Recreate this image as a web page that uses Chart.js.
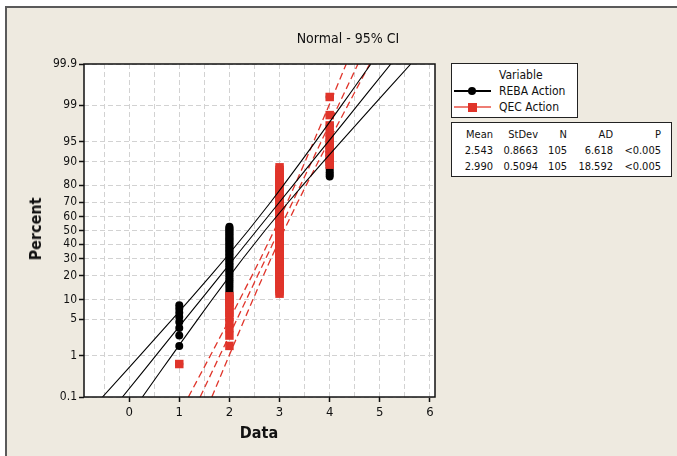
<!DOCTYPE html>
<html>
<head>
<meta charset="utf-8">
<script src="https://cdn.jsdelivr.net/npm/chart.js@4/dist/chart.umd.min.js"></script>
<style>
html, body { margin: 0; padding: 0; background: #fff; overflow: hidden; }
body { width: 677px; height: 456px; position: relative; font-family: 'DejaVu Sans Condensed', 'DejaVu Sans', sans-serif; color: #111; }
#frame { position: absolute; left: 5px; top: 6px; width: 700px; height: 480px; background: #eeeae0; border-left: 2px solid #5a5a5a; border-top: 2px solid #5a5a5a; }
#wrap { position: absolute; left: 0; top: 0; width: 677px; height: 456px; }
.t { position: absolute; white-space: nowrap; line-height: 1; }
.box { position: absolute; border: 1.5px solid #222; background: #fff; }
.r { transform: translate(-100%, -50%); }
.l { transform: translate(0, -50%); }
.c { transform: translate(-50%, -50%); }
</style>
</head>
<body>
<div id="frame"></div>
<div id="wrap"><canvas id="probPlot"></canvas></div>

<div class="t c" style="left:348px; top:38px; font-size:14px;">Normal - 95% CI</div>
<div class="t c" style="left:36px; top:229px; font-size:16px; font-weight:bold; transform:translate(-50%,-50%) rotate(-90deg);">Percent</div>
<div class="t c" style="left:259px; top:433px; font-size:16px; font-weight:bold;">Data</div>

<div class="box" style="left:451px; top:63px; width:125px; height:53px;"></div>
<div class="t l" style="left:499px; top:75px; font-size:12px;">Variable</div>
<div style="position:absolute; left:454px; top:90px; width:37px; height:2px; background:#000;"></div>
<div style="position:absolute; left:468px; top:87px; width:8px; height:8px; border-radius:50%; background:#000;"></div>
<div class="t l" style="left:499px; top:91px; font-size:12px;">REBA Action</div>
<div style="position:absolute; left:454px; top:106px; width:37px; height:2px; background:#ee7d74;"></div>
<div style="position:absolute; left:468px; top:103px; width:9px; height:9px; background:#e0342a;"></div>
<div class="t l" style="left:499px; top:107px; font-size:12px;">QEC Action</div>

<div class="box" style="left:451px; top:122px; width:219px; height:53px;"></div>
<div id="stats"></div>

<script>
// percent plotted for each rank (median ranks, 105 observations per variable)
const rankPercent = [
  0.66, 1.61, 2.56, 3.51, 4.46, 5.41, 6.36, 7.31, 8.25, 9.20,
  10.15, 11.10, 12.05, 13.00, 13.95, 14.90, 15.84, 16.79, 17.74, 18.69,
  19.64, 20.59, 21.54, 22.49, 23.43, 24.38, 25.33, 26.28, 27.23, 28.18,
  29.13, 30.08, 31.02, 31.97, 32.92, 33.87, 34.82, 35.77, 36.72, 37.67,
  38.61, 39.56, 40.51, 41.46, 42.41, 43.36, 44.31, 45.26, 46.20, 47.15,
  48.10, 49.05, 50.00, 50.95, 51.90, 52.85, 53.80, 54.74, 55.69, 56.64,
  57.59, 58.54, 59.49, 60.44, 61.39, 62.33, 63.28, 64.23, 65.18, 66.13,
  67.08, 68.03, 68.98, 69.92, 70.87, 71.82, 72.77, 73.72, 74.67, 75.62,
  76.57, 77.51, 78.46, 79.41, 80.36, 81.31, 82.26, 83.21, 84.16, 85.10,
  86.05, 87.00, 87.95, 88.90, 89.85, 90.80, 91.75, 92.69, 93.64, 94.59,
  95.54, 96.49, 97.44, 98.39, 99.34
];

// observations at each data value
const dataValues = [1, 2, 3, 4];
const rebaCounts = [9, 47, 32, 17];
const qecCounts = [1, 11, 81, 12];

// fitted line and 95% CI, x read at these percents
const fitPercent = [0.1, 0.5, 1, 2, 5, 10, 20, 30, 50, 70, 80, 90, 95, 98, 99, 99.5, 99.9];
const rebaFit = [-0.134, 0.312, 0.528, 0.764, 1.118, 1.433, 1.814, 2.089, 2.543, 2.997, 3.272, 3.653, 3.968, 4.322, 4.558, 4.774, 5.220];
const rebaLower = [-0.532, -0.033, 0.209, 0.472, 0.864, 1.209, 1.621, 1.912, 2.377, 2.821, 3.079, 3.430, 3.714, 4.030, 4.239, 4.430, 4.822];
const rebaUpper = [0.264, 0.656, 0.847, 1.056, 1.372, 1.656, 2.007, 2.265, 2.709, 3.174, 3.465, 3.877, 4.222, 4.614, 4.877, 5.119, 5.618];
const qecFit = [1.416, 1.678, 1.805, 1.944, 2.152, 2.337, 2.561, 2.723, 2.990, 3.257, 3.419, 3.643, 3.828, 4.036, 4.175, 4.302, 4.564];
const qecLower = [1.182, 1.475, 1.617, 1.772, 2.003, 2.206, 2.448, 2.619, 2.893, 3.153, 3.305, 3.511, 3.678, 3.864, 3.987, 4.100, 4.330];
const qecUpper = [1.650, 1.880, 1.993, 2.116, 2.302, 2.469, 2.675, 2.827, 3.087, 3.361, 3.532, 3.774, 3.977, 4.208, 4.363, 4.505, 4.798];

const yTicks = [0.1, 1, 5, 10, 20, 30, 40, 50, 60, 70, 80, 90, 95, 99, 99.9];
const xTicks = [-0.5, 0, 0.5, 1, 1.5, 2, 2.5, 3, 3.5, 4, 4.5, 5, 5.5, 6];

const statsHead = ['Mean', 'StDev', 'N', 'AD', 'P'];
const statsRows = [
  ['2.543', '0.8663', '105', '6.618', '<0.005'],
  ['2.990', '0.5094', '105', '18.592', '<0.005']
];

const BLACK = '#000';
const RED = '#e0342a';

// stats table
const colRight = [493, 538, 567, 613, 661];
const rowY = [134, 150, 166];
let html = '';
[statsHead].concat(statsRows).forEach((row, r) => {
    row.forEach((txt, c) => {
        html += `<div class="t r" style="left:${colRight[c]}px; top:${rowY[r]}px; font-size:11px;">${txt.replace('<', '&lt;')}</div>`;
    });
});
document.getElementById('stats').innerHTML = html;

// inverse normal cdf (Acklam), used by the probability scale
function normInv(p) {
    const a = [-3.969683028665376e+01, 2.209460984245205e+02, -2.759285104469687e+02, 1.383577518672690e+02, -3.066479806614716e+01, 2.506628277459239e+00];
    const b = [-5.447609879822406e+01, 1.615858368580409e+02, -1.556989798598866e+02, 6.680131188771972e+01, -1.328068155288572e+01];
    const c = [-7.784894002430293e-03, -3.223964580411365e-01, -2.400758277161838e+00, -2.549732539343734e+00, 4.374664141464968e+00, 2.938163982698783e+00];
    const d = [7.784695709041462e-03, 3.224671290700398e-01, 2.445134137142996e+00, 3.754408661907416e+00];
    const pl = 0.02425;
    let q, r;
    if (p < pl) {
        q = Math.sqrt(-2 * Math.log(p));
        return (((((c[0]*q+c[1])*q+c[2])*q+c[3])*q+c[4])*q+c[5]) / ((((d[0]*q+d[1])*q+d[2])*q+d[3])*q+1);
    }
    if (p <= 1 - pl) {
        q = p - 0.5; r = q * q;
        return (((((a[0]*r+a[1])*r+a[2])*r+a[3])*r+a[4])*r+a[5])*q / (((((b[0]*r+b[1])*r+b[2])*r+b[3])*r+b[4])*r+1);
    }
    q = Math.sqrt(-2 * Math.log(1 - p));
    return -(((((c[0]*q+c[1])*q+c[2])*q+c[3])*q+c[4])*q+c[5]) / ((((d[0]*q+d[1])*q+d[2])*q+d[3])*q+1);
}

// normal probability axis (values in percent)
class ProbitScale extends Chart.Scale {
    determineDataLimits() {
        this.min = this.options.min;
        this.max = this.options.max;
    }
    buildTicks() {
        return yTicks.map(v => ({ value: v }));
    }
    configure() {
        super.configure();
        this._zStart = normInv(this.min / 100);
        this._zRange = normInv(this.max / 100) - this._zStart;
    }
    getPixelForValue(v) {
        return this.getPixelForDecimal((normInv(v / 100) - this._zStart) / this._zRange);
    }
    getValueForPixel(px) {
        return null;
    }
    getLabelForValue(v) {
        return String(v);
    }
}
ProbitScale.id = 'probit';
ProbitScale.defaults = {};
Chart.register(ProbitScale);

function expandRanks(counts) {
    const pts = [];
    let r = 0;
    counts.forEach((n, k) => {
        for (let i = 0; i < n; i++) pts.push({ x: dataValues[k], y: rankPercent[r++] });
    });
    return pts;
}

function linePts(xs) {
    return xs.map((x, i) => ({ x: x, y: fitPercent[i] }));
}

function lineSet(xs, color, dashed, order) {
    return {
        data: linePts(xs),
        showLine: true,
        borderColor: color,
        borderWidth: dashed ? 1.3 : 1.1,
        borderDash: dashed ? [7, 4] : [],
        pointRadius: 0,
        order: order
    };
}

const plotFrame = {
    id: 'plotFrame',
    beforeDraw(chart) {
        const a = chart.chartArea, ctx = chart.ctx;
        ctx.save();
        ctx.fillStyle = '#fff';
        ctx.fillRect(a.left, a.top, a.right - a.left, a.bottom - a.top);
        ctx.restore();
    },
    afterDraw(chart) {
        const a = chart.chartArea, ctx = chart.ctx;
        ctx.save();
        ctx.strokeStyle = '#111';
        ctx.lineWidth = 1.5;
        ctx.strokeRect(a.left, a.top, a.right - a.left, a.bottom - a.top);
        ctx.restore();
    }
};

const tickFont = { family: "'DejaVu Sans Condensed', 'DejaVu Sans', sans-serif" };

new Chart(document.getElementById('probPlot').getContext('2d'), {
    type: 'scatter',
    data: {
        datasets: [
            lineSet(rebaFit, BLACK, false, 0),
            lineSet(rebaLower, BLACK, false, 0),
            lineSet(rebaUpper, BLACK, false, 0),
            lineSet(qecFit, RED, true, 1),
            lineSet(qecLower, RED, true, 1),
            lineSet(qecUpper, RED, true, 1),
            {
                label: 'QEC Action',
                data: expandRanks(qecCounts),
                pointStyle: 'rect',
                pointRadius: 6,
                pointBorderWidth: 0,
                backgroundColor: RED,
                order: 2
            },
            {
                label: 'REBA Action',
                data: expandRanks(rebaCounts),
                pointStyle: 'circle',
                pointRadius: 4,
                pointBorderWidth: 0,
                backgroundColor: BLACK,
                order: 3
            }
        ]
    },
    options: {
        responsive: true,
        maintainAspectRatio: false,
        animation: false,
        events: [],
        layout: { padding: { top: 64, right: 242, left: 0, bottom: 0 } },
        plugins: {
            legend: { display: false },
            tooltip: { enabled: false }
        },
        scales: {
            x: {
                type: 'linear',
                min: -0.9,
                max: 6.1,
                afterBuildTicks: axis => { axis.ticks = xTicks.map(v => ({ value: v })); },
                afterFit: axis => { axis.height = 59; },
                border: { display: false, dash: [5, 3] },
                grid: {
                    color: '#d2d2d2',
                    lineWidth: 1,
                    tickLength: 5,
                    tickWidth: 1.5,
                    tickColor: ctx => Number.isInteger(ctx.tick.value) ? '#111' : 'rgba(0,0,0,0)'
                },
                ticks: {
                    color: '#111',
                    padding: 3,
                    maxRotation: 0,
                    autoSkip: false,
                    font: Object.assign({ size: 13 }, tickFont),
                    callback: v => Number.isInteger(v) ? String(v) : ''
                }
            },
            y: {
                type: 'probit',
                position: 'left',
                min: 0.1,
                max: 99.9,
                afterFit: axis => { axis.width = 84; },
                border: { display: false, dash: [5, 3] },
                grid: {
                    color: '#d2d2d2',
                    lineWidth: 1,
                    tickLength: 5,
                    tickWidth: 1.5,
                    tickColor: '#111'
                },
                ticks: {
                    color: '#111',
                    padding: 2,
                    autoSkip: false,
                    font: Object.assign({ size: 12 }, tickFont)
                }
            }
        }
    },
    plugins: [plotFrame]
});
</script>
</body>
</html>
